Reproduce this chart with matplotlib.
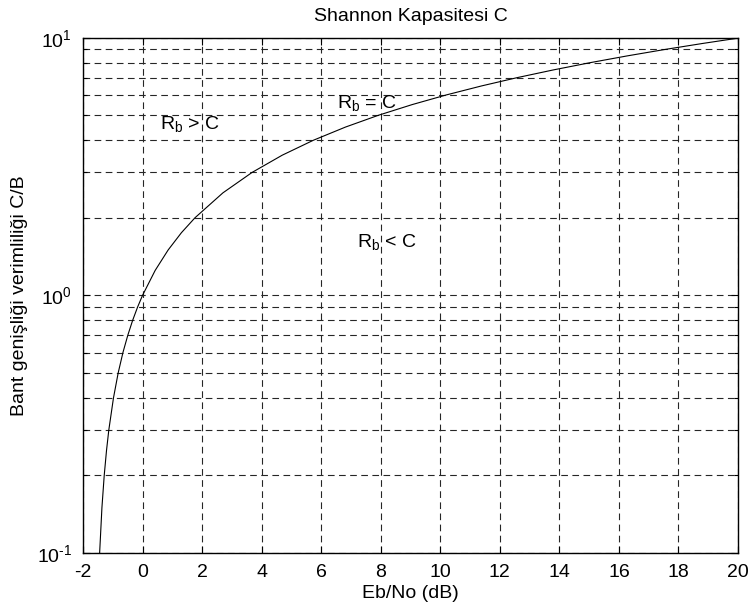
import matplotlib
matplotlib.use("Agg")
import matplotlib.pyplot as plt
from matplotlib.ticker import LogLocator, NullFormatter, FixedLocator

plt.rcParams['font.family'] = ['Liberation Sans', 'DejaVu Sans']
plt.rcParams['mathtext.fontset'] = 'custom'
plt.rcParams['mathtext.rm'] = 'Liberation Sans'
plt.rcParams['mathtext.it'] = 'Liberation Sans'
plt.rcParams['mathtext.default'] = 'regular'
plt.rcParams['axes.unicode_minus'] = False

# Spectral efficiency C/B (y) and required Eb/No in dB (x)
efficiency = [0.1, 0.15, 0.2, 0.25, 0.3, 0.4, 0.5, 0.6, 0.7, 0.8, 0.9, 1.0,
              1.25, 1.5, 1.75, 2.0, 2.5, 3.0, 3.5, 4.0, 4.5, 5.0, 5.5, 6.0,
              6.5, 7.0, 7.5, 8.0, 8.5, 9.0, 9.5, 10.0]
ebno_db = [-1.441, -1.364, -1.287, -1.210, -1.133, -0.976, -0.818, -0.658,
           -0.495, -0.332, -0.167, 0.0, 0.425, 0.860, 1.305, 1.761, 2.701,
           3.680, 4.693, 5.740, 6.818, 7.924, 9.056, 10.212, 11.390, 12.587,
           13.803, 15.034, 16.281, 17.542, 18.815, 20.099]

x_ticks = [-2, 0, 2, 4, 6, 8, 10, 12, 14, 16, 18, 20]
y_ticks = [0.1, 1, 10]
y_tick_labels = ['$10^{\u2010' + '1}$', r'$10^{0}$', r'$10^{1}$']

region_labels = [r'$R_b$ > C', r'$R_b$ = C', r'$R_b$ < C']
region_x = [0.59, 6.52, 7.19]
region_y = [4.42, 5.34, 1.545]

FS = 14

fig = plt.figure(figsize=(7.49, 6.12), dpi=100)
ax = fig.add_axes([0.1108, 0.0964, 0.8745, 0.842])

ax.plot(ebno_db, efficiency, color='black', linewidth=0.8)
ax.set_yscale('log')
ax.set_xlim(-2, 20)
ax.set_ylim(0.1, 10)
ax.xaxis.set_major_locator(FixedLocator(x_ticks))
ax.set_xticklabels([str(v) for v in x_ticks])
ax.set_yticks(y_ticks)
ax.set_yticklabels(y_tick_labels)
ax.yaxis.set_minor_locator(LogLocator(base=10, subs=range(2, 10)))
ax.yaxis.set_minor_formatter(NullFormatter())

grid_kw = dict(color='0.15', linestyle=(0, (6, 4)), linewidth=0.8)
ax.grid(True, which='major', axis='both', **grid_kw)
ax.grid(True, which='minor', axis='y', **grid_kw)

ax.tick_params(which='both', direction='in', top=True, right=True,
               labelsize=FS, width=0.8, colors='black')
ax.tick_params(which='major', length=5)
ax.tick_params(which='minor', length=3)
ax.tick_params(axis='x', which='major', pad=8)
ax.tick_params(axis='y', which='major', pad=8)
for s in ax.spines.values():
    s.set_linewidth(1.0)

for lab, xx, yy in zip(region_labels, region_x, region_y):
    ax.text(xx, yy, lab, fontsize=FS, va='baseline', ha='left')

ax.set_title('Shannon Kapasitesi C', fontsize=FS, pad=12)
ax.set_xlabel('Eb/No (dB)', fontsize=FS, labelpad=3)
ax.set_ylabel('Bant genişliği verimliliği C/B', fontsize=FS, labelpad=6)

fig.savefig('out.png', dpi=100)
